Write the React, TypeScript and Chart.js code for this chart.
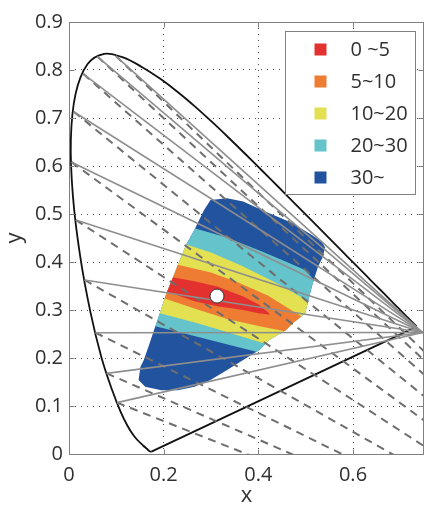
import React, { useEffect, useRef } from 'react';
import { Chart, registerables } from 'chart.js';

// CIE 1931 spectral locus, 380–700 nm
const locusX = [0.1741, 0.1733, 0.1714, 0.1689, 0.1644, 0.1566, 0.1440, 0.1355, 0.1241, 0.1096, 0.0913, 0.0687, 0.0454, 0.0235, 0.0082, 0.0039, 0.0139, 0.0389, 0.0743, 0.1142, 0.1547, 0.1929, 0.2296, 0.2658, 0.3016, 0.3373, 0.3731, 0.4087, 0.4441, 0.4788, 0.5125, 0.5448, 0.5752, 0.6029, 0.6270, 0.6482, 0.6658, 0.6801, 0.6915, 0.7006, 0.7079, 0.7140, 0.7190, 0.7230, 0.7260, 0.7283, 0.7300, 0.7320, 0.7334, 0.7347];
const locusY = [0.0050, 0.0048, 0.0051, 0.0069, 0.0109, 0.0177, 0.0297, 0.0399, 0.0578, 0.0868, 0.1327, 0.2007, 0.2950, 0.4127, 0.5384, 0.6548, 0.7502, 0.8120, 0.8338, 0.8262, 0.8059, 0.7816, 0.7543, 0.7243, 0.6923, 0.6589, 0.6245, 0.5896, 0.5547, 0.5202, 0.4866, 0.4544, 0.4242, 0.3965, 0.3725, 0.3514, 0.3340, 0.3197, 0.3083, 0.2993, 0.2920, 0.2859, 0.2809, 0.2770, 0.2740, 0.2717, 0.2700, 0.2680, 0.2666, 0.2653];

// confusion lines: start points on the locus, converging to copunctal points
const lineStartX = [0.060, 0.099, 0.030, 0.010, 0.0056, 0.0144, 0.0328, 0.0559, 0.0796, 0.1015];
const lineStartY = [0.828, 0.829, 0.792, 0.713, 0.608, 0.4875, 0.3625, 0.2527, 0.168, 0.107];
const protanPoint = { x: 0.747, y: 0.253 };
const deutanPoint = { x: 1.40, y: -0.40 };
const whitePoint = { x: 0.3127, y: 0.329 };

// colored region: outer boundary (30~) and nested level regions
const outerRegion: number[][] = [
  [0.299, 0.529], [0.334, 0.533], [0.368, 0.526], [0.417, 0.504], [0.472, 0.481], [0.513, 0.456], [0.534, 0.442], [0.541, 0.430], [0.536, 0.410], [0.526, 0.390], [0.513, 0.349], [0.499, 0.293], [0.472, 0.272], [0.458, 0.258], [0.423, 0.2375], [0.403, 0.217], [0.368, 0.196], [0.334, 0.175], [0.299, 0.154], [0.265, 0.140], [0.230, 0.133], [0.195, 0.133], [0.161, 0.140], [0.147, 0.154], [0.151, 0.182], [0.158, 0.196], [0.168, 0.224], [0.182, 0.265], [0.192, 0.293], [0.202, 0.324], [0.209, 0.342], [0.220, 0.369], [0.230, 0.394], [0.247, 0.435], [0.265, 0.467], [0.285, 0.508],
];
const band30: number[][] = [
  [0.22, 0.485], [0.267, 0.470], [0.33, 0.452], [0.40, 0.425], [0.46, 0.400], [0.50, 0.383], [0.518, 0.362], [0.56, 0.34],
  [0.62, 0.34], [0.62, 0.08], [0.45, 0.08],
  [0.43, 0.20], [0.40, 0.212], [0.36, 0.222], [0.30, 0.237], [0.24, 0.252], [0.178, 0.267], [0.15, 0.275],
  [0.10, 0.28], [0.10, 0.49],
];
const band20: number[][] = [
  [0.20, 0.445], [0.246, 0.437], [0.30, 0.42], [0.365, 0.392], [0.44, 0.355], [0.48, 0.333], [0.505, 0.318], [0.56, 0.29],
  [0.62, 0.29], [0.62, 0.08], [0.47, 0.08],
  [0.45, 0.21], [0.42, 0.228], [0.38, 0.240], [0.33, 0.255], [0.27, 0.273], [0.19, 0.294], [0.15, 0.30],
  [0.10, 0.30], [0.10, 0.45],
];
const band10: number[][] = [
  [0.19, 0.40], [0.232, 0.394], [0.30, 0.378], [0.36, 0.356], [0.42, 0.330], [0.48, 0.293], [0.52, 0.27],
  [0.62, 0.27], [0.62, 0.08], [0.50, 0.08],
  [0.48, 0.24], [0.451, 0.257], [0.403, 0.266], [0.334, 0.281], [0.265, 0.303], [0.202, 0.324], [0.17, 0.333],
  [0.10, 0.335], [0.10, 0.40],
];
const band5: number[][] = [
  [0.18, 0.378], [0.216, 0.369], [0.265, 0.360], [0.313, 0.349], [0.368, 0.328], [0.40, 0.312], [0.42, 0.296], [0.425, 0.290],
  [0.40, 0.293], [0.368, 0.300], [0.313, 0.308], [0.265, 0.318], [0.22, 0.334], [0.18, 0.345],
];

const rangeLabels = ['0 ~5', '5~10', '10~20', '20~30', '30~'];
const rangeColors = ['#E2312F', '#EE7D33', '#E3E052', '#64C3CB', '#22539F'];

const FONT = '"Open Sans", "DejaVu Sans", sans-serif';
const TEXT = '#303030';

const regionClipPlugin = {
  id: 'regionClip',
  beforeDatasetDraw(chart: any, args: any) {
    const ds = chart.data.datasets[args.index];
    if (!ds || !ds.clipToRegion) return;
    const { ctx, scales } = chart;
    ctx.save();
    ctx.beginPath();
    outerRegion.forEach(([vx, vy], i) => {
      const px = scales.x.getPixelForValue(vx);
      const py = scales.y.getPixelForValue(vy);
      if (i === 0) ctx.moveTo(px, py); else ctx.lineTo(px, py);
    });
    ctx.closePath();
    ctx.clip();
  },
  afterDatasetDraw(chart: any, args: any) {
    const ds = chart.data.datasets[args.index];
    if (ds && ds.clipToRegion) chart.ctx.restore();
  },
};
Chart.register(regionClipPlugin);
Chart.register(...registerables);

const framePlugin = {
  id: 'frameBox',
  afterDatasetsDraw(chart: any) {
    const { ctx, chartArea: a, scales } = chart;
    ctx.save();
    ctx.strokeStyle = '#808080';
    ctx.lineWidth = 1;
    const L = Math.round(a.left) + 0.5, R = Math.round(a.right) - 0.5;
    const T = Math.round(a.top) + 0.5, B = Math.round(a.bottom) + 0.5;
    ctx.strokeRect(L, T, R - L, B - T);
    ctx.beginPath();
    scales.x.ticks.forEach((t: any) => {
      const px = Math.round(scales.x.getPixelForValue(t.value)) + 0.5;
      ctx.moveTo(px, B); ctx.lineTo(px, B - 5);
      ctx.moveTo(px, T); ctx.lineTo(px, T + 5);
    });
    scales.y.ticks.forEach((t: any) => {
      const py = Math.round(scales.y.getPixelForValue(t.value)) + 0.5;
      ctx.moveTo(L, py); ctx.lineTo(L + 5, py);
      ctx.moveTo(R, py); ctx.lineTo(R - 5, py);
    });
    ctx.stroke();
    ctx.restore();
  },
};

const boxLegendPlugin = {
  id: 'boxLegend',
  afterDraw(chart: any) {
    const { ctx, chartArea: a } = chart;
    const w = 130, h = 163;
    const x0 = Math.round(a.right - 9 - w) + 0.5;
    const y0 = Math.round(a.top + 9) + 0.5;
    ctx.save();
    ctx.fillStyle = '#ffffff';
    ctx.fillRect(x0, y0, w, h);
    ctx.strokeStyle = '#808080';
    ctx.lineWidth = 1;
    ctx.strokeRect(x0, y0, w, h);
    ctx.font = `20px ${FONT}`;
    ctx.textBaseline = 'middle';
    ctx.textAlign = 'left';
    rangeLabels.forEach((label, i) => {
      const cy = y0 + 18 + i * 32;
      ctx.fillStyle = rangeColors[i];
      ctx.fillRect(x0 + 29, cy - 6, 12, 12);
      ctx.fillStyle = TEXT;
      ctx.fillText(label, x0 + 65, cy + 1);
    });
    ctx.restore();
  },
};

const toPts = (arr: number[][]) => arr.map(([x, y]) => ({ x, y }));
const fmt = (v: any) => (Math.abs(Number(v)) < 1e-9 ? '0' : Number(v).toFixed(1));

export default function App() {
  const ref = useRef<HTMLCanvasElement>(null);
  useEffect(() => {
    const canvas = ref.current;
    if (!canvas) return;
    const datasets: any[] = [];
    datasets.push({
      data: [whitePoint], showLine: false, pointRadius: 7, pointBackgroundColor: '#ffffff',
      pointBorderColor: '#333333', pointBorderWidth: 1, order: 0,
    });
    lineStartX.forEach((x0, i) => {
      const start = { x: x0, y: lineStartY[i] };
      datasets.push({ data: [start, protanPoint], showLine: true, borderColor: '#8e8e8e', borderWidth: 1.6, pointRadius: 0, order: 1 });
      datasets.push({ data: [start, deutanPoint], showLine: true, borderColor: '#6e6e6e', borderWidth: 2, borderDash: [8, 6], pointRadius: 0, order: 2 });
    });
    datasets.push({
      data: locusX.map((x, i) => ({ x, y: locusY[i] })), showLine: true, borderColor: '#111111',
      borderWidth: 1.8, tension: 0.35, pointRadius: 0, order: 3,
    });
    datasets.push({
      data: [{ x: locusX[0], y: locusY[0] }, { x: locusX[locusX.length - 1], y: locusY[locusY.length - 1] }],
      showLine: true, borderColor: '#111111', borderWidth: 1.8, pointRadius: 0, order: 3,
    });
    const bands = [band5, band10, band20, band30];
    bands.forEach((b, i) => {
      datasets.push({
        data: toPts(b), showLine: true, fill: 'shape', backgroundColor: rangeColors[i],
        borderWidth: 0, pointRadius: 0, clipToRegion: true, order: 4 + i,
      });
    });
    datasets.push({
      data: toPts(outerRegion), showLine: true, fill: 'shape', backgroundColor: rangeColors[4],
      borderWidth: 0, pointRadius: 0, order: 9,
    });

    const tickFont = { family: FONT, size: 20 };
    const chart = new Chart(canvas, {
      type: 'scatter',
      data: { datasets },
      options: {
        animation: false,
        responsive: false,
        devicePixelRatio: 1,
        events: [],
        layout: { padding: { left: 0, right: 1.7, top: 22, bottom: 0 } },
        plugins: { legend: { display: false }, tooltip: { enabled: false } },
        scales: {
          x: {
            type: 'linear', min: 0, max: 0.75,
            afterFit: (s: any) => { s.height = 51; },
            ticks: { stepSize: 0.2, includeBounds: false, padding: 9, color: TEXT, font: tickFont, callback: fmt, maxRotation: 0, autoSkip: false },
            grid: {
              drawTicks: false, lineWidth: 1,
              color: (c: any) => (c.tick && c.tick.value > 1e-6 && c.tick.value < 0.749 ? '#444444' : 'rgba(0,0,0,0)'),
            },
            border: { display: false, dash: [1, 5] },
            title: { display: true, text: 'x', color: TEXT, padding: 0, font: { family: FONT, size: 22, lineHeight: 0.8 } },
          },
          y: {
            type: 'linear', min: 0, max: 0.9,
            afterFit: (s: any) => { s.width = 69; },
            ticks: { stepSize: 0.1, padding: 6, color: TEXT, font: tickFont, callback: fmt, autoSkip: false },
            grid: {
              drawTicks: false, lineWidth: 1,
              color: (c: any) => (c.tick && c.tick.value > 1e-6 && c.tick.value < 0.899 ? '#444444' : 'rgba(0,0,0,0)'),
            },
            border: { display: false, dash: [1, 5] },
            title: { display: true, text: 'y', color: TEXT, padding: 0, font: { family: FONT, size: 22, lineHeight: 1.3 } },
          },
        },
      } as any,
      plugins: [framePlugin, boxLegendPlugin],
    });
    return () => chart.destroy();
  }, []);

  return (
    <div style={{ position: 'absolute', left: 0, top: 0, width: 430, height: 505, overflow: 'hidden', background: '#fff' }}>
      <canvas ref={ref} width={432} height={505} style={{ display: 'block', width: 432, height: 505 }} />
    </div>
  );
}
